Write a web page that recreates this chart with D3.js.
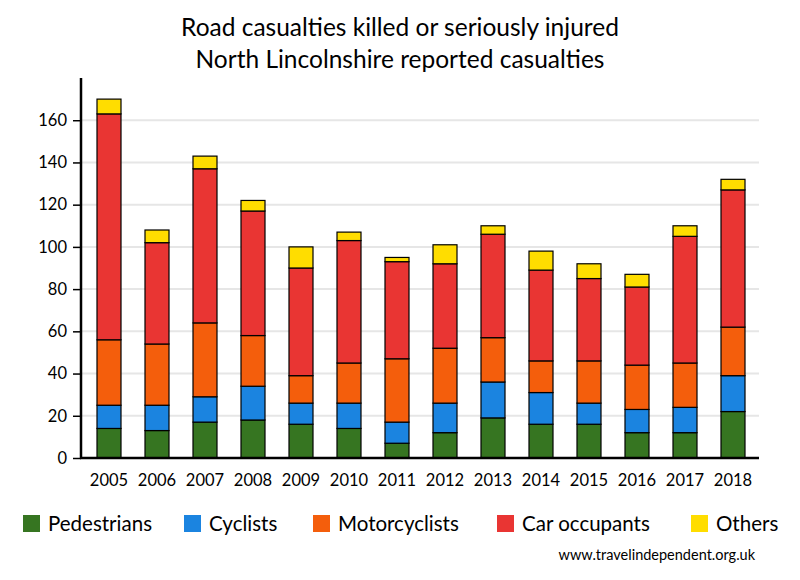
<!DOCTYPE html>
<html><head><meta charset="utf-8">
<script src="https://cdn.jsdelivr.net/npm/d3@7"></script>
<style>body{margin:0;background:#fff}svg{display:block}text{font-family:Lato,"Open Sans",sans-serif}</style>
</head><body><svg id="c" width="800" height="580"></svg>
<script>
const years = ["2005","2006","2007","2008","2009","2010","2011","2012","2013","2014","2015","2016","2017","2018"];
const pedestrians   = [14,13,17,18,16,14, 7,12,19,16,16,12,12,22];
const cyclists      = [11,12,12,16,10,12,10,14,17,15,10,11,12,17];
const motorcyclists = [31,29,35,24,13,19,30,26,21,15,20,21,21,23];
const carOccupants  = [107,48,73,59,51,58,46,40,49,43,39,37,60,65];
const others        = [7, 6, 6, 5,10, 4, 2, 9, 4, 9, 7, 6, 5, 5];
const seriesNames = ["Pedestrians","Cyclists","Motorcyclists","Car occupants","Others"];
const seriesColors = ["#367521","#1b84e0","#f45e0c","#e93533","#ffdd00"];
const yTicks = [0,20,40,60,80,100,120,140,160];
const titleLines = ["Road casualties killed or seriously injured","North Lincolnshire reported casualties"];
const source = "www.travelindependent.org.uk";

const svg = d3.select("#c");
const rows = years.map((y,i)=>({year:y, Pedestrians:pedestrians[i], Cyclists:cyclists[i], Motorcyclists:motorcyclists[i], "Car occupants":carOccupants[i], Others:others[i]}));
const stack = d3.stack().keys(seriesNames)(rows);

const x = d3.scaleBand().domain(years).range([85,757]).paddingInner(0.5).paddingOuter(0.25);
const y = d3.scaleLinear().domain([0,180]).range([458,78]);
const color = d3.scaleOrdinal().domain(seriesNames).range(seriesColors);
const axisX0 = 81, axisX1 = 759;

// gridlines
svg.append("g").selectAll("line").data(yTicks.filter(d=>d>0)).join("line")
  .attr("x1",axisX0).attr("x2",axisX1).attr("y1",d=>y(d)).attr("y2",d=>y(d))
  .attr("stroke","#e6e6e6").attr("stroke-width",2);

// bars
svg.append("g").selectAll("g").data(stack).join("g").attr("fill",d=>color(d.key))
  .selectAll("rect").data(d=>d).join("rect")
  .attr("x",d=>x(d.data.year)).attr("width",x.bandwidth())
  .attr("y",d=>y(d[1])).attr("height",d=>y(d[0])-y(d[1]))
  .attr("stroke","#000").attr("stroke-width",1.2);

// y axis
const ya = svg.append("g").attr("transform",`translate(${axisX0},0)`)
  .call(d3.axisLeft(y).tickValues(yTicks).tickSize(8).tickPadding(6));
ya.select(".domain").remove();
ya.selectAll(".tick line").attr("stroke","#000").attr("stroke-width",1.5);
ya.selectAll(".tick text").attr("font-size",16.5).attr("fill","#000").attr("font-family","Lato,sans-serif");
svg.append("line").attr("x1",axisX0).attr("x2",axisX0).attr("y1",y(180)).attr("y2",y(0)+1).attr("stroke","#000").attr("stroke-width",2.5);

// x axis
const xa = svg.append("g").attr("transform",`translate(0,${y(0)})`)
  .call(d3.axisBottom(x).tickSize(0).tickPadding(16));
xa.select(".domain").remove();
xa.selectAll(".tick text").attr("font-size",16.5).attr("fill","#000").attr("font-family","Lato,sans-serif");
svg.append("line").attr("x1",axisX0-1).attr("x2",axisX1).attr("y1",y(0)).attr("y2",y(0)).attr("stroke","#000").attr("stroke-width",2.5);

// title
svg.append("g").selectAll("text").data(titleLines).join("text")
  .attr("x",400).attr("y",(d,i)=>36+i*32).attr("text-anchor","middle")
  .attr("font-size",24.5).attr("fill","#000").text(d=>d);

// legend
const legX = [23,184,313,497,691];
const lg = svg.append("g").selectAll("g").data(seriesNames).join("g")
  .attr("transform",(d,i)=>`translate(${legX[i]},515)`);
lg.append("rect").attr("width",17).attr("height",17).attr("fill",d=>color(d));
lg.append("text").attr("x",25).attr("y",15.5).attr("font-size",20.5).attr("fill","#000").text(d=>d);

svg.append("text").attr("x",755).attr("y",560).attr("text-anchor","end").attr("font-size",14.5).attr("fill","#000").text(source);
</script></body></html>
